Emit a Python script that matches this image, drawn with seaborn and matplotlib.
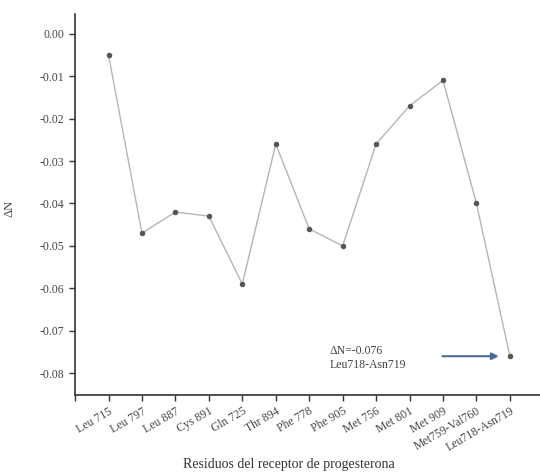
import matplotlib
matplotlib.use("Agg")
import matplotlib.pyplot as plt
import seaborn as sns
import pandas as pd

residues = ["Leu 715", "Leu 797", "Leu 887", "Cys 891", "Gln 725", "Thr 894",
            "Phe 778", "Phe 905", "Met 756", "Met 801", "Met 909",
            "Met759-Val760", "Leu718-Asn719"]
delta_n = [-0.005, -0.047, -0.042, -0.043, -0.059, -0.026,
           -0.046, -0.050, -0.026, -0.017, -0.011, -0.040, -0.076]
y_ticks = [0.00, -0.01, -0.02, -0.03, -0.04, -0.05, -0.06, -0.07, -0.08]

sns.set_theme(style="ticks")
plt.rcParams['font.family'] = ['Liberation Serif', 'DejaVu Serif']

df = pd.DataFrame({"pos": range(1, len(residues) + 1), "dn": delta_n})

fig = plt.figure(figsize=(5.4, 4.74), dpi=100)
ax = fig.add_axes([0.139, 0.167, 0.861, 0.804])
sns.lineplot(data=df, x="pos", y="dn", ax=ax, color="#b5b5b5", linewidth=1.0,
             marker="o", markersize=3.2, markerfacecolor="#555555",
             markeredgecolor="#555555")

ax.set_xlim(0, 13.9)
ax.set_ylim(-0.0851, 0.0047)
ax.set_xticks([0] + list(df["pos"]))
ax.set_xticklabels([""] + residues, rotation=30, ha="right",
                   rotation_mode="anchor", fontsize=8.5, color="#444444")
ax.set_yticks(y_ticks)
ax.set_yticklabels([f"{v:.2f}" if v != 0 else "0.00" for v in y_ticks],
                   fontsize=8.5, color="#444444")
ax.tick_params(direction="out", length=4, width=1, color="#333333")

for side in ["top", "right"]:
    ax.spines[side].set_visible(False)
for side in ["left", "bottom"]:
    ax.spines[side].set_color("#333333")
    ax.spines[side].set_linewidth(1.2)

ax.set_xlabel("Residuos del receptor de progesterona", fontsize=10, color="#333333")
ax.set_ylabel("ΔN", fontsize=9, color="#444444")
ax.xaxis.set_label_coords(0.46, -0.165)
ax.yaxis.set_label_coords(-0.128, 0.49)

ax.annotate("", xy=(12.75, delta_n[-1]), xytext=(10.9, delta_n[-1]),
            arrowprops=dict(arrowstyle="-|>", color="#4a6a9c", lw=1.5,
                            mutation_scale=10))
ax.text(7.6, -0.0765, "ΔN=-0.076\nLeu718-Asn719", fontsize=8.5,
        color="#444444", va="center", ha="left", linespacing=1.2)

fig.savefig("out.png", dpi=100)
